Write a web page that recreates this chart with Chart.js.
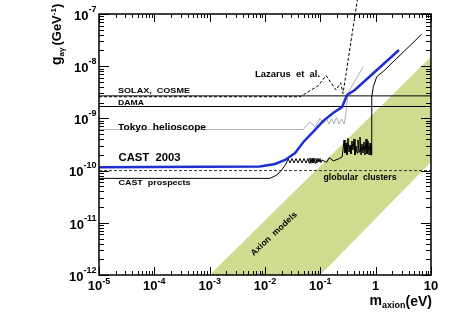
<!DOCTYPE html>
<html>
<head>
<meta charset="utf-8">
<script src="https://cdn.jsdelivr.net/npm/chart.js@4.4.1/dist/chart.umd.min.js"></script>
<style>
  html, body { margin: 0; padding: 0; background: #fff; }
  canvas { display: block; }
</style>
</head>
<body>
<canvas id="c" width="455" height="322"></canvas>
<script>
// ---- axis ranges and tick labels ----
const xRange = [1e-5, 10];
const yRange = [1e-12, 1e-7];
const xTickValues = [1e-5, 1e-4, 1e-3, 1e-2, 1e-1, 1, 10];
const xTickLabels = [["10", "-5"], ["10", "-4"], ["10", "-3"], ["10", "-2"], ["10", "-1"], ["1", ""], ["10", ""]];
const yTickValues = [1e-12, 1e-11, 1e-10, 1e-9, 1e-8, 1e-7];
const yTickLabels = [["10", "-12"], ["10", "-11"], ["10", "-10"], ["10", "-9"], ["10", "-8"], ["10", "-7"]];

// ---- series (m_axion [eV], g [GeV^-1]) ----
const solaxCosme = [[1e-5, 2.7e-9], [10, 2.7e-9]];
const dama = [[1e-5, 1.69e-9], [10, 1.69e-9]];
const globularClusters = [[1e-5, 1.0e-10], [10, 1.0e-10]];
const lazarus = [[1e-5, 2.6e-9], [0.043, 2.6e-9], [0.091, 4.2e-9], [0.127, 6.6e-9], [0.192, 3.5e-9],
  [0.233, 4.8e-9], [0.257, 3.0e-9], [0.466, 1.85e-7]];
const tokyo = [[1e-5, 6.1e-10], [0.049, 6.1e-10], [0.065, 8.6e-10], [0.080, 6.9e-10], [0.099, 1.0e-9],
  [0.113, 8.05e-10], [0.130, 9.75e-10], [0.144, 7.8e-10], [0.159, 9.95e-10], [0.177, 8.0e-10],
  [0.196, 1.04e-9], [0.218, 7.8e-10], [0.241, 9.75e-10], [0.268, 7.8e-10], [0.285, 1.11e-9],
  [0.316, 3.07e-9], [0.598, 9.8e-9]];
const cast2003 = [[1e-5, 1.16e-10], [0.0081, 1.2e-10], [0.0152, 1.34e-10], [0.023, 1.6e-10], [0.035, 2.17e-10],
  [0.049, 3.5e-10], [0.074, 5.5e-10], [0.112, 8.9e-10], [0.17, 1.27e-9], [0.247, 1.65e-9],
  [0.303, 2.8e-9], [0.42, 3.5e-9], [2.64, 2.04e-8]];
const castProspects = [[1e-5, 7.1e-11], [0.0123, 7.1e-11], [0.0163, 8.2e-11], [0.020, 1.03e-10], [0.024, 1.34e-10],
  [0.0261, 1.7e-10], [0.0283, 1.4e-10], [0.0308, 1.7e-10], [0.0334, 1.4e-10], [0.0363, 1.7e-10],
  [0.0395, 1.4e-10], [0.0429, 1.7e-10], [0.0467, 1.4e-10], [0.0507, 1.7e-10], [0.0551, 1.4e-10],
  [0.0598, 1.7e-10], [0.0624, 1.4e-10], [0.0650, 1.75e-10], [0.0678, 1.38e-10], [0.0707, 1.72e-10],
  [0.0737, 1.4e-10], [0.0768, 1.75e-10], [0.0801, 1.38e-10], [0.0835, 1.7e-10], [0.0870, 1.4e-10],
  [0.0907, 1.72e-10], [0.0946, 1.45e-10], [0.0986, 1.7e-10], [0.1028, 1.42e-10], [0.1072, 1.6e-10],
  [0.130, 1.44e-10], [0.145, 1.77e-10], [0.172, 1.53e-10], [0.211, 1.67e-10], [0.247, 1.82e-10],
  [0.257, 2.48e-10], [0.268, 3.86e-10], [0.279, 2.17e-10], [0.291, 3.38e-10], [0.303, 1.99e-10],
  [0.316, 4.2e-10], [0.330, 2.27e-10], [0.344, 3.09e-10], [0.358, 2.08e-10], [0.373, 3.69e-10],
  [0.389, 2.48e-10], [0.406, 4.03e-10], [0.423, 1.99e-10], [0.441, 2.96e-10], [0.460, 2.17e-10],
  [0.479, 3.86e-10], [0.500, 2.27e-10], [0.521, 4.4e-10], [0.543, 1.99e-10], [0.566, 3.23e-10],
  [0.590, 2.17e-10], [0.615, 3.53e-10], [0.641, 1.99e-10], [0.669, 4.03e-10], [0.697, 2.08e-10],
  [0.727, 3.69e-10], [0.758, 1.99e-10], [0.790, 3.38e-10], [0.823, 1.99e-10],
  [0.85, 2.0e-10], [0.85, 2.57e-9], [0.908, 4.05e-9], [1.045, 6.3e-9], [1.4, 8.1e-9], [6.8, 4.1e-8]];
const axionBand = [[1e-3, 1e-12], [10, 1.52e-8], [10, 1.46e-10], [0.1, 1e-12], [1e-3, 1e-12]];

const toXY = arr => arr.map(p => ({ x: p[0], y: p[1] }));
const FONT = '"Liberation Sans", Arial, Helvetica, sans-serif';

function line(data, color, width, extra) {
  return Object.assign({
    data: toXY(data), showLine: true, borderColor: color, borderWidth: width,
    pointRadius: 0, fill: false, tension: 0, order: 1
  }, extra || {});
}

function fitText(ctx, text, x, y, size, width, align) {
  ctx.font = 'bold ' + size + 'px ' + FONT;
  const w = ctx.measureText(text).width;
  const s = width / w;
  ctx.save();
  ctx.translate(x, y);
  ctx.scale(s, 1);
  ctx.textAlign = align || 'left';
  ctx.fillText(text, 0, 0);
  ctx.restore();
}

const framePlugin = {
  id: 'frame',
  afterDatasetsDraw(chart) {
    const { ctx, chartArea: a, scales } = chart;
    const xs = scales.x, ys = scales.y;
    ctx.save();
    ctx.strokeStyle = '#000';
    ctx.fillStyle = '#000';
    ctx.lineWidth = 1;
    ctx.beginPath();
    // x ticks (bottom & top, inward)
    for (let d = 0; d < xTickValues.length; d++) {
      for (let k = 1; k <= 9; k++) {
        const v = xTickValues[d] * k;
        if (v > xRange[1] * 1.0001) break;
        const px = Math.round(xs.getPixelForValue(v)) + 0.5;
        const len = k === 1 ? 8 : 4;
        ctx.moveTo(px, a.bottom); ctx.lineTo(px, a.bottom - len);
        ctx.moveTo(px, a.top); ctx.lineTo(px, a.top + len);
      }
    }
    // y ticks (left & right, inward)
    for (let d = 0; d < yTickValues.length; d++) {
      for (let k = 1; k <= 9; k++) {
        const v = yTickValues[d] * k;
        if (v > yRange[1] * 1.0001) break;
        const py = Math.round(ys.getPixelForValue(v)) + 0.5;
        const len = k === 1 ? 10 : 5;
        ctx.moveTo(a.left, py); ctx.lineTo(a.left + len, py);
        ctx.moveTo(a.right, py); ctx.lineTo(a.right - len, py);
      }
    }
    ctx.stroke();
    ctx.lineWidth = 1.5;
    ctx.strokeRect(a.left, a.top, a.right - a.left, a.bottom - a.top);

    // x tick labels
    ctx.textBaseline = 'alphabetic';
    ctx.textAlign = 'left';
    xTickValues.forEach((v, i) => {
      const [base, exp] = xTickLabels[i];
      const px = xs.getPixelForValue(v);
      ctx.font = 'bold 13px ' + FONT;
      const wb = ctx.measureText(base).width;
      ctx.font = 'bold 9px ' + FONT;
      const we = exp ? ctx.measureText(exp).width : 0;
      const x0 = px - (wb + we) / 2;
      ctx.font = 'bold 13px ' + FONT;
      ctx.fillText(base, x0, a.bottom + 15);
      if (exp) { ctx.font = 'bold 9px ' + FONT; ctx.fillText(exp, x0 + wb, a.bottom + 9); }
    });
    // y tick labels
    yTickValues.forEach((v, i) => {
      const [base, exp] = yTickLabels[i];
      const py = ys.getPixelForValue(v);
      ctx.font = 'bold 9px ' + FONT;
      const we = ctx.measureText(exp).width;
      const xr = a.left - 2.5;
      ctx.fillText(exp, xr - we, py - 2.3);
      ctx.font = 'bold 13px ' + FONT;
      const wb = ctx.measureText(base).width;
      ctx.fillText(base, xr - we - wb, py + 5.7);
    });

    // x axis title: m_axion(eV)
    ctx.font = 'bold 14px ' + FONT;
    const wParen = ctx.measureText('(eV)').width;
    const wm = ctx.measureText('m').width;
    ctx.font = 'bold 9px ' + FONT;
    const wSub = ctx.measureText('axion').width;
    let tx = a.right + 1 - wParen - wSub - wm;
    ctx.font = 'bold 14px ' + FONT;
    ctx.fillText('m', tx, 305);
    ctx.font = 'bold 9px ' + FONT;
    ctx.fillText('axion', tx + wm, 308);
    ctx.font = 'bold 14px ' + FONT;
    ctx.fillText('(eV)', tx + wm + wSub, 305.5);

    // y axis title: g_aγ (GeV^-1), rotated
    ctx.save();
    ctx.translate(61, 65);
    ctx.rotate(-Math.PI / 2);
    let ty = 0;
    ctx.font = 'bold 14px ' + FONT;
    ctx.fillText('g', ty, 0); ty += ctx.measureText('g').width;
    ctx.font = 'bold 8px ' + FONT;
    ctx.fillText('aγ', ty, 3); ty += ctx.measureText('aγ').width + 2;
    ctx.font = 'bold 13px ' + FONT;
    ctx.fillText('(GeV', ty, 0); ty += ctx.measureText('(GeV').width;
    ctx.font = 'bold 8px ' + FONT;
    ctx.fillText('-1', ty, -5); ty += ctx.measureText('-1').width;
    ctx.font = 'bold 13px ' + FONT;
    ctx.fillText(')', ty, 0);
    ctx.restore();

    // annotations
    fitText(ctx, 'SOLAX,  COSME', 118, 93, 8, 72);
    fitText(ctx, 'DAMA', 118, 104.7, 8, 26);
    fitText(ctx, 'Tokyo  helioscope', 118, 129.5, 9.5, 88);
    fitText(ctx, 'CAST  2003', 118.5, 160.5, 10.5, 62);
    fitText(ctx, 'CAST  prospects', 118.5, 185.3, 8, 72);
    fitText(ctx, 'Lazarus  et  al.', 255, 76.8, 9, 65);
    fitText(ctx, 'globular  clusters', 323.5, 180, 8.5, 73);
    ctx.save();
    ctx.translate(274, 234);
    ctx.rotate(-43 * Math.PI / 180);
    ctx.textBaseline = 'middle';
    fitText(ctx, 'Axion  models', 0, 0, 8.5, 60, 'center');
    ctx.restore();
    ctx.restore();
  }
};

new Chart(document.getElementById('c').getContext('2d'), {
  type: 'scatter',
  data: {
    datasets: [
      line(axionBand, 'rgba(0,0,0,0)', 0, { fill: 'shape', backgroundColor: '#cfdb8e', order: 100 }),
      line(solaxCosme, '#000', 1),
      line(dama, '#000', 1),
      line(globularClusters, '#333', 1, { borderDash: [3, 2] }),
      line(lazarus, '#000', 1, { borderDash: [3, 2], clip: { left: 0, top: 14, right: 0, bottom: 0 } }),
      line(tokyo, '#a4aeb8', 1),
      line(castProspects, '#000', 1),
      line(cast2003, '#1e30d2', 2.5, { order: 0 })
    ]
  },
  options: {
    responsive: false,
    animation: false,
    devicePixelRatio: 1,
    layout: { padding: { left: 99, top: 14, right: 24, bottom: 47 } },
    scales: {
      x: { type: 'logarithmic', min: xRange[0], max: xRange[1], display: false },
      y: { type: 'logarithmic', min: yRange[0], max: yRange[1], display: false }
    },
    plugins: { legend: { display: false }, tooltip: { enabled: false } },
    elements: { point: { radius: 0 } }
  },
  plugins: [framePlugin]
});
</script>
</body>
</html>
